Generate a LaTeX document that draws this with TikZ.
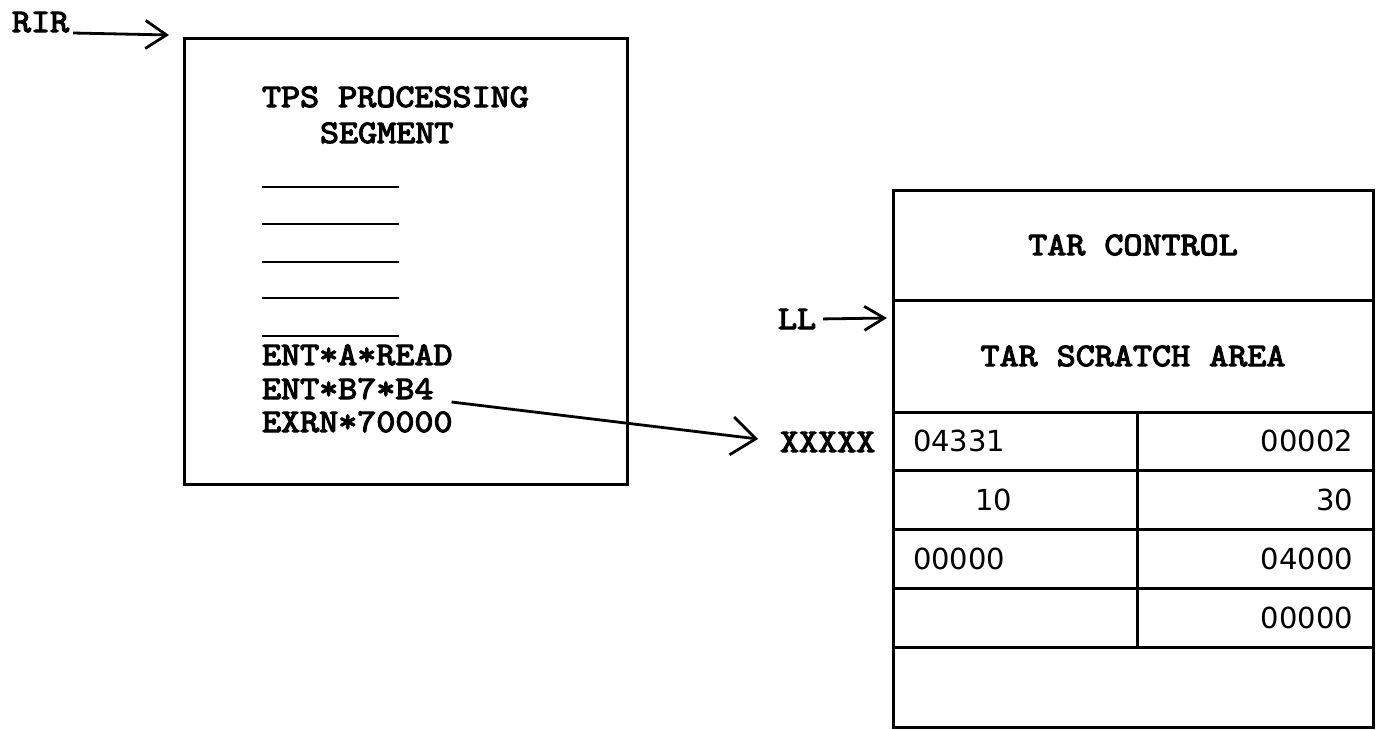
\documentclass[tikz,border=0pt]{standalone}
\usepackage{fontspec}
\newfontfamily\twfont{lmmono10-regular.otf}[FakeStretch=1.1, FakeBold=3.5]
\newfontfamily\numfont{DejaVu Sans}
\usetikzlibrary{arrows.meta}
\begin{document}
\begin{tikzpicture}[x=1pt,y=-1pt,
  tw/.style={font=\twfont\fontsize{33}{36}\selectfont, inner sep=0pt, outer sep=0pt},
  nm/.style={font=\numfont\fontsize{29}{32}\selectfont, inner sep=0pt, outer sep=0pt},
  frame/.style={draw, line width=3pt, inner sep=0pt, outer sep=0pt},
  rulestyle/.style={line width=2.8pt},
  conn/.style={line width=2.8pt},
  rirarr/.style={conn, -{Straight Barb[length=21pt, width=28pt, line width=2.8pt]}},
  llarr/.style={conn, -{Straight Barb[length=20pt, width=24pt, line width=2.8pt]}},
  xxarr/.style={conn, -{Straight Barb[length=24pt, width=38pt, line width=2.8pt]}}
]
\useasboundingbox (0,0) rectangle (1384,729);

% left box
\node[frame, anchor=north west, minimum width=443pt, minimum height=446pt] (lbox) at (184,38) {};
\node[tw, anchor=base west] (rir) at (12,32) {RIR};
\node[tw, anchor=base west] (tps) at (262,107) {TPS PROCESSING};
\node[tw, anchor=base west] (seg) at (320,143) {SEGMENT};
\foreach \y in {187,224,262,298,336} \draw[rulestyle] (262,\y) -- (399,\y);
\node[tw, anchor=base west] (enta) at (262,365) {ENT*A*READ};
\node[tw, anchor=base west] (entb) at (262,399) {ENT*B7*B4};
\node[tw, anchor=base west] (exrn) at (262,432) {EXRN*70000};

% table
\node[frame, tw, anchor=north west, minimum width=480pt, minimum height=110pt] (ctl) at (893,190) {TAR CONTROL};
\node[frame, tw, anchor=north west, minimum width=480pt, minimum height=112pt] (scr) at (893,300) {TAR SCRATCH AREA};
\node[frame, anchor=north west, minimum width=244pt, minimum height=58pt] (a1) at (893,412) {};
\node[frame, anchor=north west, minimum width=236pt, minimum height=58pt] (b1) at (1137,412) {};
\node[frame, anchor=north west, minimum width=244pt, minimum height=59pt] (a2) at (893,470) {};
\node[frame, anchor=north west, minimum width=236pt, minimum height=59pt] (b2) at (1137,470) {};
\node[frame, anchor=north west, minimum width=244pt, minimum height=59pt] (a3) at (893,529) {};
\node[frame, anchor=north west, minimum width=236pt, minimum height=59pt] (b3) at (1137,529) {};
\node[frame, anchor=north west, minimum width=244pt, minimum height=59pt] (a4) at (893,588) {};
\node[frame, anchor=north west, minimum width=236pt, minimum height=59pt] (b4) at (1137,588) {};
\node[frame, anchor=north west, minimum width=480pt, minimum height=80pt] (a5) at (893,647) {};

\node[nm, anchor=west] (n11) at ([xshift=20pt]a1.west) {04331};
\node[nm, anchor=east] (n12) at ([xshift=-20pt]b1.east) {00002};
\node[nm, anchor=west] (n21) at ([xshift=82pt]a2.west) {10};
\node[nm, anchor=east] (n22) at ([xshift=-20pt]b2.east) {30};
\node[nm, anchor=west] (n31) at ([xshift=20pt]a3.west) {00000};
\node[nm, anchor=east] (n32) at ([xshift=-20pt]b3.east) {04000};
\node[nm, anchor=east] (n42) at ([xshift=-20pt]b4.east) {00000};

% labels
\node[tw, anchor=base west] (ll) at (778,329) {LL};
\node[tw, anchor=base west] (xx) at (780,452) {XXXXX};

% connectors
\draw[rirarr] ([xshift=4pt,yshift=-1pt]rir.base east) -- ([xshift=-15pt,yshift=3pt]lbox.north west);
\draw[llarr] ([xshift=7pt]ll.east) -- ([xshift=-6pt,yshift=-18pt]scr.north west);
\draw[xxarr] ([xshift=18pt,yshift=-3pt]entb.base east) -- ([xshift=-22pt,yshift=13pt]xx.base west);
\end{tikzpicture}
\end{document}
